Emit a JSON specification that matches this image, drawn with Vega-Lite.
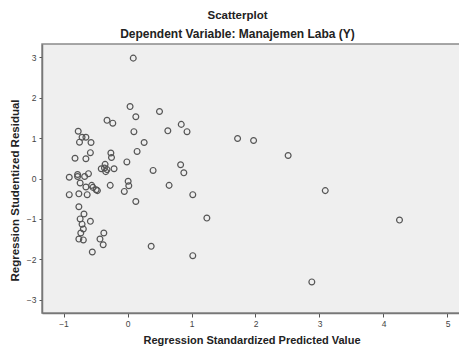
{
  "$schema": "https://vega.github.io/schema/vega-lite/v6.json",
  "width": 419,
  "height": 269,
  "autosize": "none",
  "padding": {"left": 42, "top": 44, "right": 0, "bottom": 37},
  "background": "white",
  "title": {
    "text": "Scatterplot",
    "subtitle": "Dependent Variable: Manajemen Laba (Y)",
    "font": "Liberation Sans",
    "fontSize": 11.5,
    "fontWeight": "bold",
    "color": "#222",
    "subtitleFont": "Liberation Sans",
    "subtitleFontSize": 12,
    "subtitleFontWeight": "bold",
    "subtitleColor": "#222",
    "subtitlePadding": 8,
    "offset": 4,
    "anchor": "middle",
    "dx": -14
  },
  "config": {
    "view": {"fill": "#efefef", "stroke": "#8a8a8a", "strokeWidth": 1.5},
    "axis": {
      "labelFont": "Liberation Sans",
      "labelFontSize": 8.5,
      "labelColor": "#444",
      "titleFont": "Liberation Sans",
      "titleFontSize": 11,
      "titleFontWeight": "bold",
      "titleColor": "#222",
      "domainColor": "#777",
      "domainWidth": 1.5,
      "tickColor": "#555",
      "grid": false
    }
  },
  "data": {
    "values": [
      {"x": 0.09, "y": 2.98}, {"x": 0.04, "y": 1.78}, {"x": 0.13, "y": 1.53}, {"x": 0.50, "y": 1.66},
      {"x": -0.32, "y": 1.44}, {"x": -0.23, "y": 1.37}, {"x": 0.84, "y": 1.34}, {"x": 0.93, "y": 1.16},
      {"x": 0.63, "y": 1.18}, {"x": 0.10, "y": 1.16}, {"x": -0.77, "y": 1.17}, {"x": -0.71, "y": 1.02},
      {"x": -0.65, "y": 1.02}, {"x": -0.75, "y": 0.90}, {"x": -0.57, "y": 0.89}, {"x": 0.26, "y": 0.89},
      {"x": -0.58, "y": 0.64}, {"x": -0.26, "y": 0.63}, {"x": 0.15, "y": 0.67}, {"x": -0.82, "y": 0.50},
      {"x": -0.65, "y": 0.49}, {"x": -0.25, "y": 0.52}, {"x": -0.01, "y": 0.41}, {"x": -0.35, "y": 0.35},
      {"x": -0.41, "y": 0.24}, {"x": -0.36, "y": 0.26}, {"x": -0.32, "y": 0.22}, {"x": -0.21, "y": 0.24},
      {"x": -0.34, "y": 0.17}, {"x": 0.83, "y": 0.34}, {"x": 0.88, "y": 0.14}, {"x": 0.40, "y": 0.20},
      {"x": -0.91, "y": 0.03}, {"x": -0.78, "y": 0.10}, {"x": -0.78, "y": 0.05}, {"x": -0.67, "y": 0.05},
      {"x": -0.61, "y": 0.12}, {"x": -0.74, "y": -0.11}, {"x": -0.65, "y": -0.21}, {"x": -0.56, "y": -0.17},
      {"x": -0.54, "y": -0.22}, {"x": -0.49, "y": -0.28}, {"x": -0.47, "y": -0.30}, {"x": -0.27, "y": -0.17},
      {"x": 0.01, "y": -0.07}, {"x": 0.02, "y": -0.18}, {"x": -0.05, "y": -0.32}, {"x": 0.65, "y": -0.17},
      {"x": -0.91, "y": -0.40}, {"x": -0.76, "y": -0.38}, {"x": -0.63, "y": -0.40}, {"x": 1.02, "y": -0.40},
      {"x": 0.13, "y": -0.57}, {"x": -0.76, "y": -0.70}, {"x": -0.68, "y": -0.88}, {"x": -0.74, "y": -1.00},
      {"x": -0.58, "y": -1.06}, {"x": -0.71, "y": -1.13}, {"x": -0.69, "y": -1.25}, {"x": -0.73, "y": -1.35},
      {"x": -0.37, "y": -1.35}, {"x": -0.76, "y": -1.50}, {"x": -0.69, "y": -1.52}, {"x": -0.43, "y": -1.50},
      {"x": -0.38, "y": -1.64}, {"x": -0.55, "y": -1.82}, {"x": 0.37, "y": -1.68}, {"x": 1.02, "y": -1.91},
      {"x": 3.09, "y": -0.30}, {"x": 1.24, "y": -0.98}, {"x": 4.25, "y": -1.03}, {"x": 2.88, "y": -2.56},
      {"x": 1.72, "y": 0.99}, {"x": 1.97, "y": 0.94}, {"x": 2.51, "y": 0.57}
    ]
  },
  "mark": {"type": "point", "shape": "circle", "filled": false, "stroke": "#555", "strokeWidth": 1.2, "size": 34, "opacity": 1},
  "encoding": {
    "x": {
      "field": "x",
      "type": "quantitative",
      "scale": {"domain": [-1.336, 5.211], "nice": false, "zero": false},
      "axis": {"values": [-1, 0, 1, 2, 3, 4, 5], "title": "Regression Standardized Predicted Value", "tickSize": 4, "labelPadding": 2, "titlePadding": 7}
    },
    "y": {
      "field": "y",
      "type": "quantitative",
      "scale": {"domain": [-3.33, 3.33], "nice": false, "zero": false},
      "axis": {"values": [-3, -2, -1, 0, 1, 2, 3], "title": "Regression Studentized Residual", "tickSize": 3, "labelPadding": 3, "titlePadding": 6, "titleY": 146, "titleFontSize": 11.5}
    }
  }
}
